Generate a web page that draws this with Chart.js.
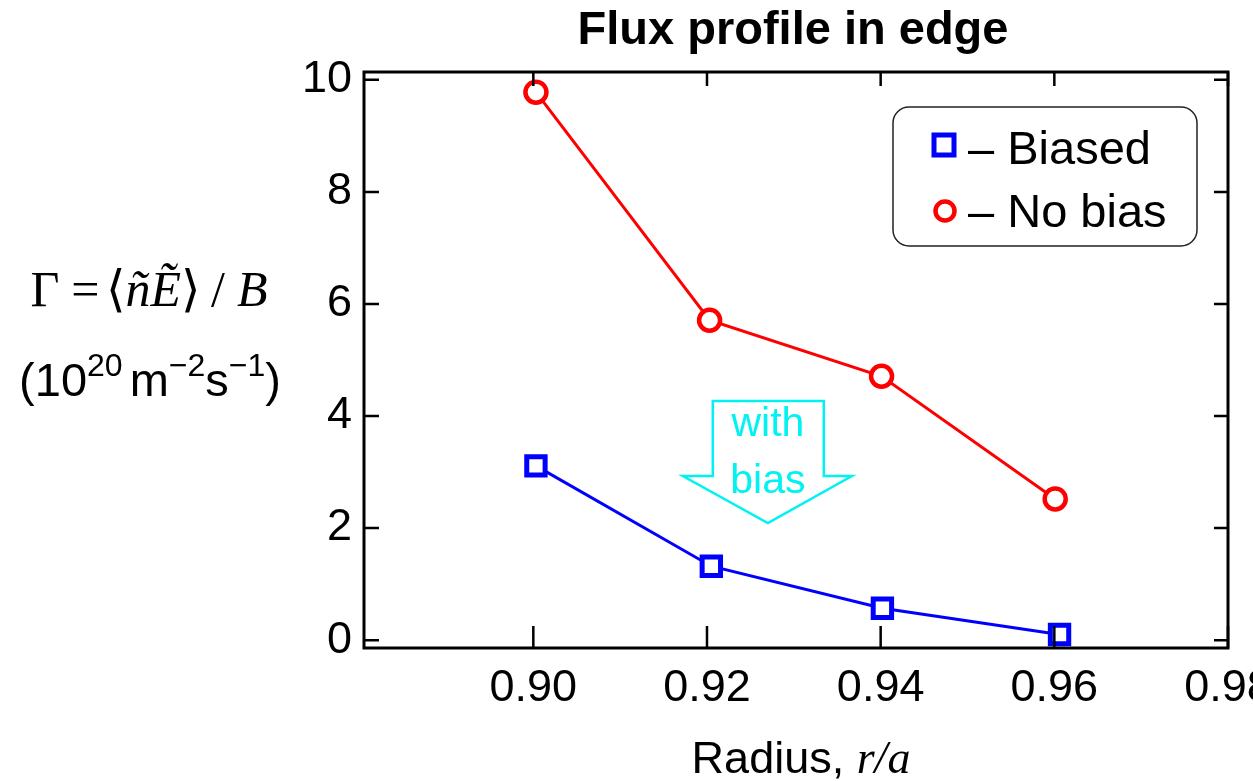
<!DOCTYPE html>
<html>
<head>
<meta charset="utf-8">
<script src="https://cdn.jsdelivr.net/npm/chart.js@4"></script>
<style>
  body { margin: 0; background: #fff; }
</style>
</head>
<body>
<canvas id="myChart" width="1253" height="781"></canvas>
<script>
// data
var xBiased = [0.9003, 0.9205, 0.9402, 0.9606];
var yBiased = [3.11, 1.32, 0.57, 0.10];
var xNoBias = [0.9003, 0.9203, 0.9401, 0.9601];
var yNoBias = [9.78, 5.71, 4.71, 2.52];
var xTicks = [0.90, 0.92, 0.94, 0.96, 0.98];
var yTicks = [0, 2, 4, 6, 8, 10];
var seriesNames = ['– Biased', '– No bias'];

// "with bias" arrow outline, in data units
var arrowX = [0.92067, 0.93345, 0.93345, 0.93668, 0.92701, 0.91722, 0.92067];
var arrowY = [4.27, 4.27, 2.93, 2.93, 2.09, 2.93, 2.93];

var SANS = '"Liberation Sans", Arial, sans-serif';
var SERIF = '"Liberation Serif", "Times New Roman", serif';

function pts(xs, ys) {
  return xs.map(function (x, i) { return { x: x, y: ys[i] }; });
}

// draws a row of text pieces [text, font, dy, gapBefore] centred at cx
function drawPieces(ctx, pieces, cx, baseline) {
  var total = 0;
  pieces.forEach(function (p) {
    ctx.font = p[1];
    total += (p[3] || 0) + ctx.measureText(p[0]).width;
  });
  var x = cx - total / 2;
  ctx.textAlign = 'left';
  ctx.textBaseline = 'alphabetic';
  pieces.forEach(function (p) {
    ctx.font = p[1];
    x += (p[3] || 0);
    ctx.fillText(p[0], x, baseline + (p[2] || 0));
    x += ctx.measureText(p[0]).width;
  });
}

var extras = {
  id: 'extras',
  afterDraw: function (chart) {
    var ctx = chart.ctx;
    var a = chart.chartArea;
    var xs = chart.scales.x, ys = chart.scales.y;
    ctx.save();

    // frame
    ctx.strokeStyle = '#000';
    ctx.lineWidth = 3;
    ctx.strokeRect(a.left, a.top, a.right - a.left, a.bottom - a.top);

    // inward ticks
    ctx.lineWidth = 2.5;
    ctx.beginPath();
    xTicks.forEach(function (v) {
      var px = xs.getPixelForValue(v);
      ctx.moveTo(px, a.bottom); ctx.lineTo(px, a.bottom - 22);
      ctx.moveTo(px, a.top); ctx.lineTo(px, a.top + 14);
    });
    yTicks.forEach(function (v) {
      var py = ys.getPixelForValue(v);
      ctx.moveTo(a.left, py); ctx.lineTo(a.left + 15, py);
      ctx.moveTo(a.right, py); ctx.lineTo(a.right - 14, py);
    });
    ctx.stroke();

    // arrow
    ctx.strokeStyle = '#00f2f2';
    ctx.lineWidth = 2.5;
    ctx.lineJoin = 'miter';
    ctx.beginPath();
    arrowX.forEach(function (v, i) {
      var px = xs.getPixelForValue(v), py = ys.getPixelForValue(arrowY[i]);
      if (i === 0) ctx.moveTo(px, py); else ctx.lineTo(px, py);
    });
    ctx.closePath();
    ctx.stroke();
    ctx.fillStyle = '#00f2f2';
    ctx.font = '41px ' + SANS;
    ctx.textAlign = 'center';
    ctx.textBaseline = 'alphabetic';
    var ax = xs.getPixelForValue(arrowX[4]);
    ctx.fillText('with', ax, 436);
    ctx.fillText('bias', ax, 493);

    // legend
    ctx.strokeStyle = '#222';
    ctx.lineWidth = 1.5;
    ctx.beginPath();
    ctx.roundRect(893, 107, 304, 139, 16);
    ctx.stroke();
    ctx.lineWidth = 5;
    ctx.strokeStyle = '#0000ff';
    ctx.strokeRect(934, 135, 20, 20);
    ctx.lineWidth = 4.5;
    ctx.strokeStyle = '#ff0000';
    ctx.beginPath();
    ctx.arc(945, 211, 9.5, 0, Math.PI * 2);
    ctx.stroke();
    ctx.fillStyle = '#000';
    ctx.font = '47px ' + SANS;
    ctx.textAlign = 'left';
    ctx.fillText(seriesNames[0], 968, 164);
    ctx.fillText(seriesNames[1], 968, 227);

    // title
    ctx.font = 'bold 47px ' + SANS;
    ctx.textAlign = 'center';
    ctx.fillText('Flux profile in edge', 793, 44);

    // x axis title
    drawPieces(ctx, [
      ['Radius, ', '45px ' + SANS],
      ['r/a', 'italic 46px ' + SERIF]
    ], 801, 773);

    // y axis title
    drawPieces(ctx, [
      ['\u0393', '50px ' + SERIF],
      ['=', '50px ' + SERIF, 0, 12],
      ['\u27E8', '50px ' + SERIF, 0, 6],
      ['\u00F1', 'italic 50px ' + SERIF],
      ['\u1EBC', 'italic 50px ' + SERIF],
      ['\u27E9', '50px ' + SERIF],
      ['/', '50px ' + SERIF, 0, 10],
      ['B', 'italic 50px ' + SERIF, 0, 12]
    ], 149, 306);
    drawPieces(ctx, [
      ['(10', '47px ' + SANS],
      ['20', '32px ' + SANS, -20],
      ['m', '47px ' + SANS, 0, 7],
      ['\u22122', '32px ' + SANS, -20],
      ['s', '47px ' + SANS],
      ['\u22121', '32px ' + SANS, -20],
      [')', '47px ' + SANS]
    ], 150, 396);

    ctx.restore();
  }
};

var ctx = document.getElementById('myChart');
var myChart = new Chart(ctx, {
  type: 'scatter',
  data: {
    datasets: [{
      label: 'Biased',
      data: pts(xBiased, yBiased),
      showLine: true,
      borderColor: '#0000ff',
      borderWidth: 3,
      pointStyle: 'rect',
      pointRadius: 13,
      pointBorderWidth: 5,
      pointBackgroundColor: '#ffffff',
      pointBorderColor: '#0000ff',
      clip: false
    }, {
      label: 'No bias',
      data: pts(xNoBias, yNoBias),
      showLine: true,
      borderColor: '#ff0000',
      borderWidth: 3,
      pointStyle: 'circle',
      pointRadius: 10.5,
      pointBorderWidth: 4.5,
      pointBackgroundColor: '#ffffff',
      pointBorderColor: '#ff0000',
      clip: false
    }]
  },
  options: {
    responsive: false,
    animation: false,
    devicePixelRatio: 1,
    layout: { padding: { top: 72, right: 25, left: 0, bottom: 0 } },
    plugins: {
      legend: { display: false },
      tooltip: { enabled: false },
      title: { display: false }
    },
    scales: {
      x: {
        type: 'linear',
        min: 0.8805,
        max: 0.98,
        afterBuildTicks: function (s) { s.ticks = xTicks.map(function (v) { return { value: v }; }); },
        afterFit: function (s) { s.height = 133; s.paddingLeft = 0; s.paddingRight = 0; },
        grid: { display: false, drawTicks: false },
        border: { display: false },
        ticks: {
          color: '#000',
          font: { family: SANS, size: 45 },
          padding: 14,
          maxRotation: 0,
          autoSkip: false,
          callback: function (v) { return Number(v).toFixed(2); }
        }
      },
      y: {
        type: 'linear',
        min: -0.14,
        max: 10.14,
        afterBuildTicks: function (s) { s.ticks = yTicks.map(function (v) { return { value: v }; }); },
        afterFit: function (s) { s.width = 364; s.paddingTop = 0; s.paddingBottom = 0; },
        grid: { display: false, drawTicks: false },
        border: { display: false },
        ticks: {
          color: '#000',
          font: { family: SANS, size: 45 },
          padding: 12,
          autoSkip: false,
          callback: function (v) { return String(v); }
        }
      }
    }
  },
  plugins: [extras]
});
</script>
</body>
</html>
